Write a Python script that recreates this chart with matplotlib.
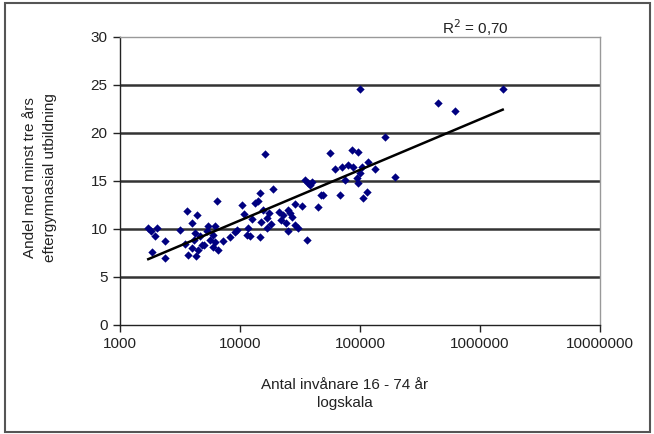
import numpy as np
import matplotlib.pyplot as plt
from matplotlib.patches import Rectangle

plt.rcParams['font.family'] = ['Liberation Sans', 'DejaVu Sans']

# invånare 16-74 år (log scale) and andel med eftergymnasial utbildning (%)
invanare = [
    1720, 2020, 1960, 2370, 1840, 2370, 1800,
    3160, 3590, 4350, 3960, 4200, 4600, 4100, 3710, 4500, 3500, 4800, 4000, 4300,
    5440, 6190, 5600, 6200, 5900, 6590, 6480, 5300, 7200, 5000, 6000,
    8250, 9100, 11700, 12100, 10320, 9400, 11400, 13340, 12600, 10800,
    14680, 14200, 16700, 16700, 18960, 16150, 14700, 15500, 17500, 15000, 18000,
    25300, 23000, 27000, 24000, 28500, 22000, 30600, 26000, 29000, 21000, 25000,
    34800, 37100, 38300, 35900, 47600, 44900, 40000, 49500, 33000,
    56200, 61900, 70300, 80000, 88000, 85000, 97000, 103000, 117000, 133000,
    100000, 75000, 93800, 97000, 68000, 114000, 106000, 100000,
    161000, 195700, 450000, 616000, 1546000,
]
andel = [
    10.1, 10.1, 9.3, 8.7, 7.6, 7.0, 9.8,
    9.9, 11.9, 11.5, 10.6, 9.6, 9.3, 8.9, 7.3, 7.8, 8.4, 8.3, 8.0, 7.2,
    10.3, 10.3, 8.9, 8.6, 9.4, 7.8, 12.9, 9.8, 8.8, 8.3, 8.1,
    9.2, 9.7, 10.1, 9.3, 12.5, 9.9, 9.4, 12.7, 11.0, 11.6,
    13.7, 12.9, 11.1, 10.1, 14.2, 17.8, 9.2, 12.0, 11.7, 10.7, 10.5,
    12.0, 11.5, 11.2, 10.6, 10.4, 10.9, 10.1, 11.7, 12.6, 11.8, 9.8,
    15.1, 14.8, 14.6, 8.85, 13.5, 12.3, 14.9, 13.5, 12.4,
    17.9, 16.3, 16.5, 16.7, 16.5, 18.2, 18.05, 16.5, 17.0, 16.3,
    15.8, 15.1, 15.3, 14.75, 13.5, 13.9, 13.2, 24.55,
    19.6, 15.45, 23.1, 22.3, 24.55,
]

x_ticks = [1000, 10000, 100000, 1000000, 10000000]
x_labels = ['1000', '10000', '100000', '1000000', '10000000']
y_ticks = [0, 5, 10, 15, 20, 25, 30]
r2_text = 'R$^2$ = 0,70'

fig = plt.figure(figsize=(6.54, 4.34), dpi=100)
ax = fig.add_axes([120 / 654, 1 - 325 / 434, 480 / 654, 288 / 434])

ax.scatter(invanare, andel, marker='D', s=18, color='#000080', zorder=3, linewidths=0)

# logarithmic trend line
lx = np.log10(invanare)
k, m = np.polyfit(lx, andel, 1)
tx = np.array([min(lx), max(lx)])
ax.plot(10 ** tx, k * tx + m, color='black', lw=1.8, zorder=4)

ax.set_xscale('log')
ax.set_xlim(1000, 10000000)
ax.set_ylim(0, 30)
ax.set_xticks(x_ticks)
ax.set_xticklabels(x_labels)
ax.minorticks_off()
ax.set_yticks(y_ticks)

for v in y_ticks[1:-1]:
    ax.axhline(v, color='#333333', lw=1.8, zorder=1)

for s in ['top', 'right']:
    ax.spines[s].set_color('#999999')
    ax.spines[s].set_linewidth(1.0)
for s in ['left', 'bottom']:
    ax.spines[s].set_color('#222222')
    ax.spines[s].set_linewidth(1.0)

ax.tick_params(direction='out', length=5, width=1, labelsize=11, colors='#222222', pad=4)

fig.text(442 / 654, 1 - 28 / 434, r2_text, fontsize=11, va='center', ha='left', color='#222222')

fig.text(40 / 654, 1 - 178 / 434, 'Andel med minst tre års\neftergymnasial utbildning',
         rotation=90, fontsize=11, ha='center', va='center', linespacing=1.5, color='#222222')
fig.text(345 / 654, 1 - 394 / 434, 'Antal invånare 16 - 74 år\nlogskala',
         fontsize=11, ha='center', va='center', linespacing=1.4, color='#222222')

fig.patches.append(Rectangle((5 / 654, 2 / 434), 645 / 654, 429 / 434, transform=fig.transFigure,
                             fill=False, edgecolor='#555555', lw=1.5))

fig.savefig('out.png', dpi=100)
